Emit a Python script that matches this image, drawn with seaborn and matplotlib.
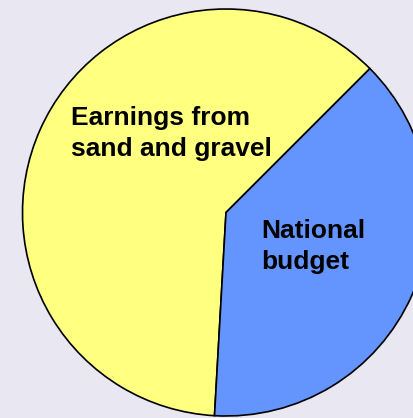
import matplotlib
matplotlib.use("Agg")
import matplotlib.pyplot as plt
import seaborn as sns

# shares of the pie (percent)
labels = ["Earnings from\nsand and gravel", "National\nbudget"]
shares = [61.6, 38.4]
colors = ["#FFFF80", "#6495FF"]

sns.set_style("white")
plt.rcParams["font.family"] = ["Liberation Sans", "DejaVu Sans"]

W, H = 414, 418
fig = plt.figure(figsize=(W / 100, H / 100), dpi=100, facecolor="#E8E7F2")
ax = fig.add_axes([0, 0, 1, 1])
ax.set_facecolor("#E8E7F2")

# pixel-like coordinates, y measured from the bottom
cx, cy, r = 226, H - 212.5, 203.5
wedges, _ = ax.pie(shares, colors=colors, startangle=45, counterclock=True,
                   center=(cx, cy), radius=r,
                   wedgeprops=dict(edgecolor="black", linewidth=1.2))

ax.set_xlim(0, W)
ax.set_ylim(0, H)
ax.set_aspect("equal")
ax.axis("off")

ax.text(71, H - 106, labels[0], ha="left", va="top", fontsize=19,
        fontweight="bold", linespacing=1.35, color="black")
ax.text(261, H - 219, labels[1], ha="left", va="top", fontsize=19,
        fontweight="bold", linespacing=1.35, color="black")

fig.savefig("out.png", dpi=100, facecolor=fig.get_facecolor())
